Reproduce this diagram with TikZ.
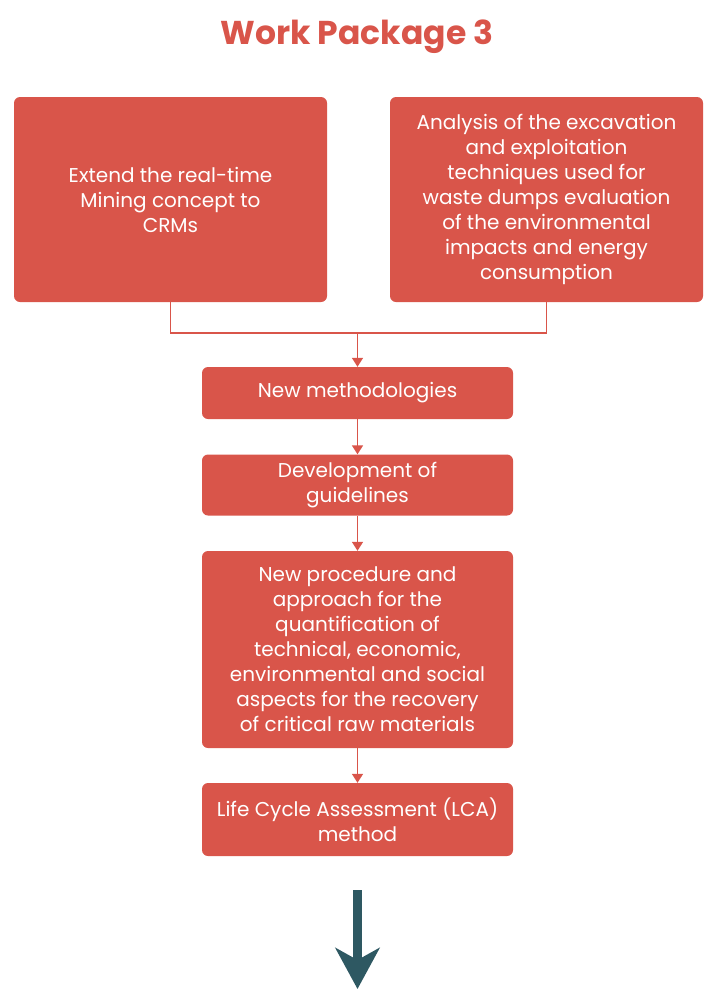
\documentclass[tikz,border=0pt]{standalone}
\usepackage{fontspec}
\setmainfont{Poppins}
\usetikzlibrary{arrows.meta}
\definecolor{boxred}{RGB}{217,85,74}
\definecolor{teal}{RGB}{46,88,98}
\begin{document}
\begin{tikzpicture}[x=1pt,y=1pt,
  wpbox/.style={draw=none,fill=boxred,rounded corners=6pt,text=white,align=center,
    font=\fontsize{20}{25}\selectfont,inner sep=0pt},
  link/.style={draw=boxred,line width=1.6pt,-{Triangle[width=11pt,length=9pt]}},
  plain/.style={draw=boxred,line width=1.6pt}]
\useasboundingbox (0,0) rectangle (708,-996);
\node[text=boxred,font=\fontsize{33}{38}\selectfont\bfseries] (title) at (357,-37) {Work Package 3};
\node[wpbox,minimum width=313pt,minimum height=205pt] (a) at (170.5,-199.5)
  {Extend the real-time\\Mining concept to\\CRMs};
\node[wpbox,minimum width=313pt,minimum height=205pt] (b) at (546.5,-199.5)
  {Analysis of the excavation\\and exploitation\\techniques used for\\waste dumps evaluation\\of the environmental\\impacts and energy\\consumption};
\node[wpbox,minimum width=311pt,minimum height=52pt] (c) at (357.5,-393)
  {New methodologies};
\node[wpbox,minimum width=311pt,minimum height=61pt] (d) at (357.5,-485)
  {Development of\\guidelines};
\node[wpbox,minimum width=311pt,minimum height=197pt] (e) at (357.5,-649.5)
  {New procedure and\\approach for the\\quantification of\\technical, economic,\\environmental and social\\aspects for the recovery\\of critical raw materials};
\node[wpbox,minimum width=311pt,minimum height=73pt] (f) at (357.5,-819.5)
  {Life Cycle Assessment (LCA)\\method};
\coordinate (j) at (357.5,-333);
\coordinate (as) at (357.5,-890);
\coordinate (ae) at (357.5,-989);
\draw[plain] (a.south) |- (j) -| (b.south);
\draw[link] (j) -- (c.north);
\draw[link] (c.south) -- (d.north);
\draw[link] (d.south) -- (e.north);
\draw[link] (e.south) -- (f.north);
\draw[draw=teal,line width=9pt,-{Stealth[width=44pt,length=41pt,inset=12pt]}] (as) -- (ae);
\end{tikzpicture}
\end{document}
